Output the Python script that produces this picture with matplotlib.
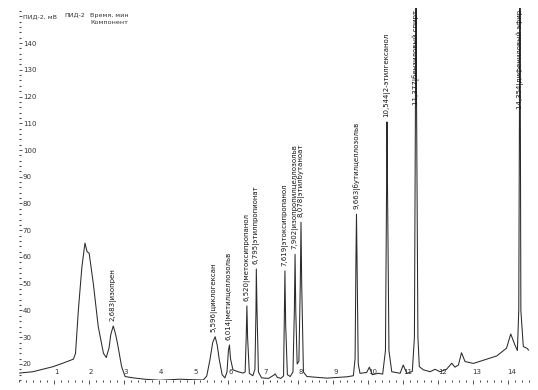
import matplotlib
matplotlib.use("Agg")
import matplotlib.pyplot as plt
from matplotlib.ticker import MultipleLocator, FixedLocator

plt.rcParams['font.family'] = ['DejaVu Sans']

# Chromatogram trace (time in min, signal in mV)
trace_time = [
    0.02, 0.40, 0.98, 1.30, 1.56, 1.62, 1.70, 1.80, 1.89, 1.95, 2.01, 2.13, 2.27, 2.42, 2.50,
    2.58, 2.63, 2.70, 2.76, 2.82, 2.94, 3.04, 3.27, 3.60, 4.04, 4.61, 5.00, 5.28, 5.38, 5.47,
    5.55, 5.62, 5.68, 5.74, 5.82, 5.90, 5.96, 6.00, 6.03, 6.06, 6.13, 6.30, 6.42, 6.48, 6.51,
    6.53, 6.55, 6.60, 6.70, 6.76, 6.79, 6.80, 6.82, 6.86, 6.95, 7.15, 7.30, 7.34, 7.40, 7.50,
    7.58, 7.60, 7.62, 7.64, 7.69, 7.77, 7.85, 7.89, 7.91, 7.93, 7.97, 8.02, 8.06, 8.08, 8.10,
    8.15, 8.25, 8.82, 9.40, 9.58, 9.63, 9.655, 9.67, 9.685, 9.72, 9.77, 9.96, 10.04, 10.12, 10.30,
    10.42, 10.50, 10.53, 10.545, 10.56, 10.60, 10.68, 10.92, 11.01, 11.11, 11.27, 11.33, 11.36, 11.377,
    11.39, 11.43, 11.47, 11.59, 11.78, 11.92, 12.06, 12.25, 12.40, 12.49, 12.59, 12.68, 12.78, 13.02,
    13.40, 13.69, 13.97, 14.09, 14.21, 14.28, 14.32, 14.354, 14.38, 14.45, 14.55, 14.60,
]
trace_signal = [
    16.6, 17.1, 19.0, 20.5, 21.8, 24.0, 40.0, 56.0, 65.2, 62.0, 61.4, 50.0, 34.0, 24.0, 22.4,
    26.0, 31.0, 34.2, 31.5, 27.8, 19.0, 15.3, 14.8, 14.3, 13.9, 14.3, 14.1, 14.0, 15.5, 21.5,
    28.0, 30.2, 27.0, 21.5, 16.0, 14.8, 17.0, 25.0, 27.1, 22.0, 17.8, 17.0, 16.6, 17.0, 30.0,
    41.7, 30.0, 16.5, 15.6, 18.0, 40.0, 55.5, 40.0, 17.0, 14.8, 14.6, 15.8, 16.3, 15.0, 14.6,
    15.5, 35.0, 54.8, 35.0, 16.0, 15.3, 17.0, 40.0, 61.0, 40.0, 20.0, 21.0, 50.0, 73.0, 50.0,
    17.0, 15.3, 14.7, 15.2, 15.6, 22.0, 60.0, 76.0, 60.0, 20.0, 16.5, 16.8, 18.8, 16.0, 16.5,
    16.2, 25.0, 85.0, 110.5, 85.0, 25.0, 17.1, 16.5, 19.6, 16.5, 17.2, 30.0, 120.0, 170.0,
    120.0, 30.0, 19.0, 17.8, 17.1, 18.0, 17.1, 18.0, 20.3, 18.8, 19.6, 24.2, 20.9, 20.2,
    21.8, 23.0, 25.9, 31.2, 27.1, 25.0, 40.0, 170.0, 40.0, 26.5, 25.9, 25.2,
]

# Identified peaks
peak_times = [2.683, 5.596, 6.014, 6.520, 6.795, 7.619, 7.902, 8.078, 9.663, 10.544, 11.377, 14.354]
peak_labels = ["2,683", "5,596", "6,014", "6,520", "6,795", "7,619", "7,902", "8,078",
               "9,663", "10,544", "11,377", "14,354"]
peak_names = ["изопрен", "циклогексан", "метилцеллозольв", "метоксипропанол", "этилпропионат",
              "этоксипропанол", "изопропилцеллозольв", "этилбутаноат", "бутилцеллозольв",
              "2-этилгексанол", "бензиловый спирт", "дифениловый эфир"]

x_ticks = [1, 2, 3, 4, 5, 6, 7, 8, 9, 10, 11, 12, 13, 14]
y_ticks = [20, 30, 40, 50, 60, 70, 80, 90, 100, 110, 120, 130, 140, 150]
y_tick_labels = ["20", "30", "40", "50", "60", "70", "80", "90", "100", "110", "120", "130", "140",
                 "ПИД-2, мВ"]

W, H = 538, 390
fig = plt.figure(figsize=(W / 100, H / 100), dpi=100)
ax = fig.add_axes([19 / W, 10 / H, (535 - 19) / W, (380 - 8) / H])
x0, x1 = 0.0, 14.785
y0, y1 = 14.0, 153.1
ax.set_xlim(x0, x1)
ax.set_ylim(y0, y1)

ax.plot(trace_time, trace_signal, color='#2a2a2a', lw=0.75)

for sp in ax.spines.values():
    sp.set_visible(False)

fs = 5.0
hfs = 4.6
# y axis: ticks only, labels inside
ax.yaxis.set_major_locator(FixedLocator(y_ticks))
ax.set_yticklabels(y_tick_labels)
ax.yaxis.set_minor_locator(MultipleLocator(2))
ax.tick_params(axis='y', which='major', direction='in', length=2.5, width=0.6, pad=-2.8,
               labelsize=fs, colors='#333333')
ax.tick_params(axis='y', which='minor', direction='in', length=1.2, width=0.8, colors='#444444')
ylabs = ax.get_yticklabels()
for lab in ylabs:
    lab.set_horizontalalignment('left')
ylabs[-1].set_fontsize(hfs)

# x axis: ticks below, labels above
ax.xaxis.set_major_locator(FixedLocator(x_ticks))
ax.set_xticklabels([str(v) for v in x_ticks])
ax.xaxis.set_minor_locator(MultipleLocator(0.2))
ax.tick_params(axis='x', which='major', direction='out', length=3, width=0.6, pad=-6.5,
               labelsize=fs, colors='#333333')
ax.tick_params(axis='x', which='minor', direction='out', length=1.5, width=0.7, colors='#444444')
for lab in ax.get_xticklabels():
    lab.set_verticalalignment('bottom')
    lab.set_horizontalalignment('left')

# header texts
fig.text(64 / W, 1 - 15 / H, "ПИД-2", fontsize=hfs, color='#333333', va='center', ha='left')
fig.text(90 / W, 1 - 15 / H, "Время, мин", fontsize=hfs, color='#333333', va='center', ha='left')
fig.text(90 / W, 1 - 23 / H, "Компонент", fontsize=hfs, color='#333333', va='center', ha='left')

# peak labels
for t, num, name in zip(peak_times, peak_labels, peak_names):
    near = [s for tt, s in zip(trace_time, trace_signal) if abs(tt - t) < 0.06]
    top = max(near)
    text = f"{num}|{name}"
    if top < y1 - 30:
        ax.annotate(text, xy=(t, top), xytext=(0, 3.5), textcoords='offset points',
                    rotation=90, ha='center', va='bottom', fontsize=fs, color='#151515')
    else:
        ax.annotate(text, xy=(t, y1), xytext=(0, -1.5), textcoords='offset points',
                    rotation=90, ha='center', va='top', fontsize=fs, color='#151515',
                    annotation_clip=False)

fig.savefig("out.png", dpi=100, facecolor='white')
